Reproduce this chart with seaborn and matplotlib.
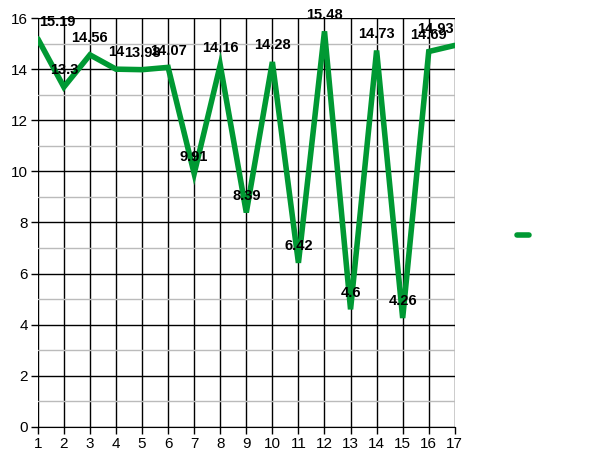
import matplotlib
matplotlib.use("Agg")
import matplotlib.pyplot as plt
import pandas as pd
import seaborn as sns
from matplotlib.ticker import MultipleLocator

x_values = list(range(1, 18))
y_values = [15.19, 13.3, 14.56, 14, 13.98, 14.07, 9.91, 14.16, 8.39, 14.28,
            6.42, 15.48, 4.6, 14.73, 4.26, 14.69, 14.93]
point_labels = ["15.19", "13.3", "14.56", "14", "13.98", "14.07", "9.91", "14.16", "8.39",
                "14.28", "6.42", "15.48", "4.6", "14.73", "4.26", "14.69", "14.93"]

sns.set_style("white")
plt.rcParams["font.family"] = ["Liberation Sans", "DejaVu Sans"]
plt.rcParams["text.color"] = "black"
plt.rcParams["xtick.color"] = "black"
plt.rcParams["ytick.color"] = "black"

df = pd.DataFrame({"x": x_values, "y": y_values})

fig = plt.figure(figsize=(6, 4.63), dpi=100)
ax = fig.add_axes([0.063, 0.078, 0.695, 0.883])
sns.lineplot(data=df, x="x", y="y", ax=ax, color="#009933", linewidth=4,
             solid_capstyle="round", solid_joinstyle="miter", label=" ", legend=False)

ax.set_xlim(1, 17)
ax.set_ylim(0, 16)
ax.xaxis.set_major_locator(MultipleLocator(1))
ax.yaxis.set_major_locator(MultipleLocator(2))
ax.yaxis.set_minor_locator(MultipleLocator(1))
ax.grid(which="major", color="black", linewidth=1)
ax.grid(which="minor", axis="y", color="#bbbbbb", linewidth=1)
ax.set_axisbelow(True)
for s in ax.spines.values():
    s.set_visible(False)
ax.spines["bottom"].set_visible(True)
ax.spines["bottom"].set_color("black")
ax.tick_params(axis="both", which="major", length=5, width=1, color="black",
               labelcolor="black", labelsize=11, pad=2, direction="out",
               bottom=True, left=True)
ax.tick_params(axis="y", which="minor", length=0)
ax.set_xlabel("")
ax.set_ylabel("")

last = len(x_values) - 1
for i, (xv, yv, lab) in enumerate(zip(x_values, y_values, point_labels)):
    if i == 0:
        ha, dx = "left", 1
    elif i == last:
        ha, dx = "right", -1
    else:
        ha, dx = "center", 0
    ax.annotate(lab, (xv, yv), xytext=(dx, 7), textcoords="offset points",
                ha=ha, va="bottom", fontsize=10.5, fontweight="bold",
                color="black", clip_on=False)

handles, labels = ax.get_legend_handles_labels()
fig.legend(handles, labels, loc="center left", bbox_to_anchor=(0.84, 0.49),
           frameon=False, handlelength=0.9, fontsize=10)

fig.savefig("out.png", dpi=100)
